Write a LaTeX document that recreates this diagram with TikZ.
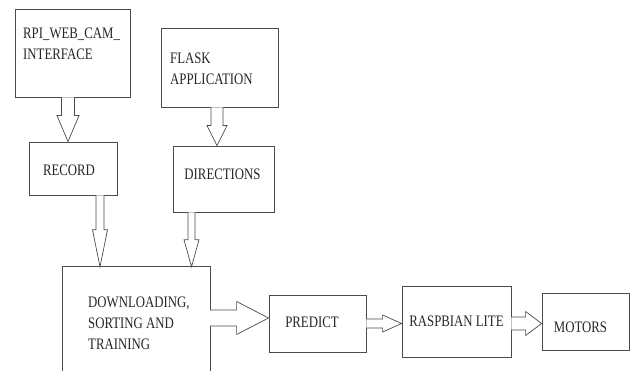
\documentclass[tikz,border=0pt]{standalone}
\usepackage{fontspec}
\setmainfont{Liberation Serif}
\usetikzlibrary{calc}
\newcommand{\lbl}[1]{\scalebox{0.8}[1]{\fontsize{16}{21}\selectfont\begin{tabular}[t]{@{}l@{}}#1\end{tabular}}}
\newcommand{\slbl}[1]{\scalebox{0.8}[1]{\fontsize{16}{21}\selectfont #1}}
\newcommand{\varr}[6]{%
  \draw[blk] let \p1=(#2.south), \p2=(#3.north) in
    ({#1pt-#4pt},\y1) -- ({#1pt-#4pt},{\y2+#6pt}) -- ({#1pt-#5pt},{\y2+#6pt}) -- (#1pt,\y2)
    -- ({#1pt+#5pt},{\y2+#6pt}) -- ({#1pt+#4pt},{\y2+#6pt}) -- ({#1pt+#4pt},\y1);}
\newcommand{\harr}[6]{%
  \draw[blk] let \p1=(#2.east), \p2=(#3.west) in
    (\x1,{#1pt+#4pt}) -- ({\x2-#6pt},{#1pt+#4pt}) -- ({\x2-#6pt},{#1pt+#5pt}) -- (\x2,#1pt)
    -- ({\x2-#6pt},{#1pt-#5pt}) -- ({\x2-#6pt},{#1pt-#4pt}) -- (\x1,{#1pt-#4pt});}
\begin{document}
\begin{tikzpicture}[x=1pt,y=1pt,
  box/.style={draw=black!70, line width=0.8pt, minimum width=#1, inner sep=0pt},
  box/.default=10pt,
  blk/.style={draw=black!70, line width=0.7pt, fill=white, line join=miter},
  txt/.style={inner sep=0pt, text=black!85}]
\useasboundingbox (0,0) rectangle (631,370);
% boxes
\node[box=115pt, minimum height=88pt] (rpi) at (72.5,317) {};
\node[box=117pt, minimum height=79pt] (flask) at (219.5,302.5) {};
\node[box=88pt, minimum height=53pt] (record) at (73,201.5) {};
\node[box=101pt, minimum height=66pt] (dirs) at (223.5,191) {};
\node[inner sep=0pt, minimum width=147pt, minimum height=105pt] (dl) at (136.5,50.5) {};
\draw[draw=black!70, line width=0.8pt] (dl.south west) -- (dl.north west) -- (dl.north east) -- (dl.south east);
\node[box=97pt, minimum height=57pt] (predict) at (317.5,46.5) {};
\node[box=109pt, minimum height=71pt] (rasp) at (456.5,48.5) {};
\node[box=87pt, minimum height=57pt] (motors) at (585.5,48.5) {};
% texts
\node[txt, anchor=base west] (trpi) at (23,331) {\lbl{RPI\_WEB\_CAM\_\\INTERFACE}};
\node[txt, anchor=base west] (tflask) at (170,306) {\lbl{FLASK\\APPLICATION}};
\node[txt] (trecord) at (69,200) {\slbl{RECORD}};
\node[txt] (tdirs) at (222.5,196) {\slbl{DIRECTIONS}};
\node[txt, anchor=base west] (tdl) at (88,63) {\lbl{DOWNLOADING,\\SORTING AND\\TRAINING}};
\node[txt] (tpredict) at (312,48) {\slbl{PREDICT}};
\node[txt] (trasp) at (456.5,49) {\slbl{RASPBIAN LITE}};
\node[txt] (tmotors) at (580.5,43) {\slbl{MOTORS}};
% block arrows
\varr{68}{rpi}{record}{6.5}{11}{26}
\varr{217}{flask}{dirs}{6}{10}{20}
\varr{100}{record}{dl}{4}{7.5}{37}
\varr{191.5}{dirs}{dl}{3.5}{7.5}{27}
\harr{52}{dl}{predict}{8}{16.5}{32}
\harr{46.5}{predict}{rasp}{4.5}{8.5}{19}
\harr{46.5}{rasp}{motors}{6.5}{12}{16}
\end{tikzpicture}
\end{document}
